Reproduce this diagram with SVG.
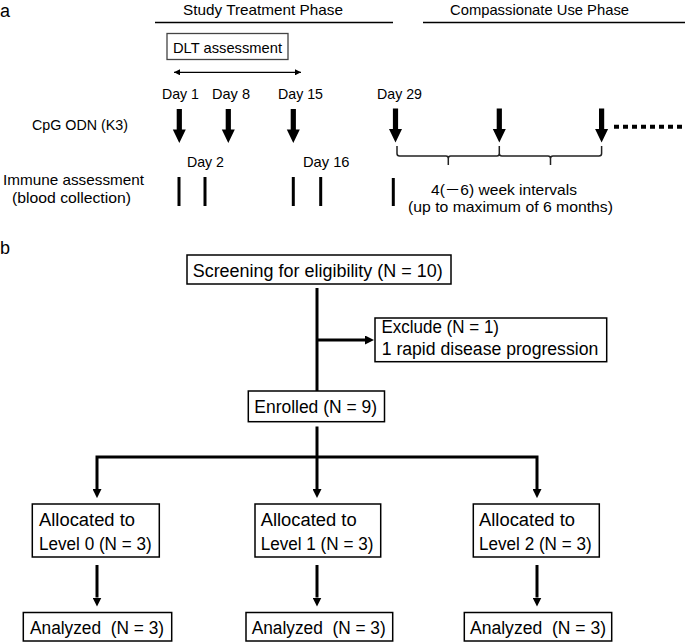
<svg xmlns="http://www.w3.org/2000/svg" width="685" height="642" viewBox="0 0 685 642">
<style>
text{font-family:"Liberation Sans",Arial,"Noto Sans CJK JP",sans-serif;fill:#000}
.ta{font-size:15px}
.tb{font-size:18px}
.lab{font-size:18px}
.box{fill:#fff;stroke:#000;stroke-width:1.5}
.dlt{fill:#fff;stroke:#444;stroke-width:1.3}
.con{fill:none;stroke:#000;stroke-width:3}
.tick{stroke:#000;stroke-width:3}
.rule{stroke:#000;stroke-width:1.5}
.brace{fill:none;stroke:#222;stroke-width:1.5}
</style>
<defs>
<marker id="ah" viewBox="0 0 10 10" refX="0" refY="5" markerWidth="9" markerHeight="9" markerUnits="userSpaceOnUse" orient="auto"><path d="M0,0 L10,5 L0,10 z" fill="#000"/></marker>
<marker id="sa" viewBox="0 0 10 10" refX="10" refY="5" markerWidth="7" markerHeight="6" markerUnits="userSpaceOnUse" orient="auto-start-reverse"><path d="M0,0 L10,5 L0,10 z" fill="#000"/></marker>
<path id="big" d="M-2.6,0 H2.6 V20.5 H6.5 L0,34 L-6.5,20.5 H-2.6 Z" fill="#000"/>
</defs>

<g id="panel-a">
<text class="lab" x="0" y="17">a</text>
<text class="ta" x="183" y="14.5" textLength="160" lengthAdjust="spacingAndGlyphs">Study Treatment Phase</text>
<line class="rule" x1="155" y1="22.5" x2="393" y2="22.5"/>
<text class="ta" x="450" y="14.5" textLength="179" lengthAdjust="spacingAndGlyphs">Compassionate Use Phase</text>
<line class="rule" x1="423" y1="22.5" x2="685" y2="22.5"/>

<g id="dlt">
<rect class="dlt" x="167" y="33.5" width="121" height="26"/>
<text class="ta" x="173" y="52.5" textLength="109" lengthAdjust="spacingAndGlyphs">DLT assessment</text>
</g>
<line x1="174" y1="72.3" x2="301" y2="72.3" stroke="#000" stroke-width="1.3" marker-start="url(#sa)" marker-end="url(#sa)"/>

<text class="ta" x="162" y="99" textLength="37" lengthAdjust="spacingAndGlyphs">Day 1</text>
<text class="ta" x="212" y="99" textLength="38" lengthAdjust="spacingAndGlyphs">Day 8</text>
<text class="ta" x="278" y="99" textLength="45" lengthAdjust="spacingAndGlyphs">Day 15</text>
<text class="ta" x="377" y="99" textLength="45" lengthAdjust="spacingAndGlyphs">Day 29</text>

<text class="ta" x="32" y="129.5" textLength="96" lengthAdjust="spacingAndGlyphs">CpG ODN (K3)</text>
<use href="#big" x="179.3" y="109"/>
<use href="#big" x="228.3" y="109"/>
<use href="#big" x="293.3" y="109"/>
<use href="#big" x="395.5" y="108.5"/>
<use href="#big" x="499.3" y="108.5"/>
<use href="#big" x="601.6" y="108.5"/>
<line x1="614" y1="126.7" x2="685" y2="126.7" stroke="#000" stroke-width="4" stroke-dasharray="5 4"/>

<path class="brace" d="M397,146 V153.5 Q397,156 399.5,156 H446 Q448.3,156 448.3,158.5 V165 M448.3,158.5 Q448.3,156 450.6,156 H497 Q499.3,156 499.3,153.5 V146 M499.3,153.5 Q499.3,156 501.8,156 H548 Q550.5,156 550.5,158.5 V165 M550.5,158.5 Q550.5,156 553,156 H599 Q601.6,156 601.6,153.5 V146"/>

<text class="ta" x="187" y="167" textLength="37" lengthAdjust="spacingAndGlyphs">Day 2</text>
<text class="ta" x="303" y="167" textLength="46.5" lengthAdjust="spacingAndGlyphs">Day 16</text>
<text class="ta" x="3" y="185" textLength="141" lengthAdjust="spacingAndGlyphs">Immune assessment</text>
<text class="ta" x="12" y="203" textLength="119" lengthAdjust="spacingAndGlyphs">(blood collection)</text>
<line class="tick" x1="179" y1="177" x2="179" y2="206"/>
<line class="tick" x1="205" y1="177" x2="205" y2="206"/>
<line class="tick" x1="293.3" y1="177" x2="293.3" y2="206"/>
<line class="tick" x1="320.7" y1="177" x2="320.7" y2="206"/>
<line class="tick" x1="393.3" y1="178" x2="393.3" y2="206"/>
<text class="ta" x="431" y="195" textLength="146" lengthAdjust="spacingAndGlyphs">4(－6) week intervals</text>
<text class="ta" x="408" y="212" textLength="205" lengthAdjust="spacingAndGlyphs">(up to maximum of 6 months)</text>
</g>

<text class="lab" x="0" y="254">b</text>

<g id="connectors">
<line class="con" x1="317" y1="288" x2="317" y2="391"/>
<line class="con" x1="317" y1="340" x2="365" y2="340" marker-end="url(#ah)"/>
<line class="con" x1="317" y1="426.5" x2="317" y2="489" marker-end="url(#ah)"/>
<polyline class="con" points="97,489 97,457 537,457 537,489"/>
<line x1="97" y1="489" x2="97" y2="489.1" class="con" marker-end="url(#ah)"/>
<line x1="537" y1="489" x2="537" y2="489.1" class="con" marker-end="url(#ah)"/>
<line class="con" x1="97" y1="565" x2="97" y2="597.5" marker-end="url(#ah)"/>
<line class="con" x1="317" y1="565" x2="317" y2="597.5" marker-end="url(#ah)"/>
<line class="con" x1="537" y1="565" x2="537" y2="597.5" marker-end="url(#ah)"/>
</g>

<g id="screening">
<rect class="box" x="187" y="255" width="264" height="29"/>
<text class="tb" x="192.7" y="276.5" textLength="250" lengthAdjust="spacingAndGlyphs">Screening for eligibility (N = 10)</text>
</g>
<g id="exclude">
<rect class="box" x="375" y="318" width="231.7" height="43.7"/>
<text class="tb" x="381.5" y="333" textLength="117.5" lengthAdjust="spacingAndGlyphs">Exclude (N = 1)</text>
<text class="tb" x="381.7" y="354.5" textLength="216.6" lengthAdjust="spacingAndGlyphs">1 rapid disease progression</text>
</g>
<g id="enrolled">
<rect class="box" x="248.3" y="391" width="136.2" height="30.7"/>
<text class="tb" x="254.3" y="413" textLength="122.7" lengthAdjust="spacingAndGlyphs">Enrolled (N = 9)</text>
</g>
<g id="level0">
<rect class="box" x="32.3" y="504" width="127" height="53"/>
<text class="tb" x="39" y="526" textLength="96" lengthAdjust="spacingAndGlyphs">Allocated to</text>
<text class="tb" x="39" y="550" textLength="112.7" lengthAdjust="spacingAndGlyphs">Level 0 (N = 3)</text>
</g>
<g id="level1">
<rect class="box" x="255" y="504" width="125.7" height="53"/>
<text class="tb" x="260.7" y="526" textLength="96" lengthAdjust="spacingAndGlyphs">Allocated to</text>
<text class="tb" x="260.7" y="550" textLength="112.7" lengthAdjust="spacingAndGlyphs">Level 1 (N = 3)</text>
</g>
<g id="level2">
<rect class="box" x="473.3" y="504" width="126" height="53"/>
<text class="tb" x="479" y="526" textLength="96" lengthAdjust="spacingAndGlyphs">Allocated to</text>
<text class="tb" x="479" y="550" textLength="112.7" lengthAdjust="spacingAndGlyphs">Level 2 (N = 3)</text>
</g>
<g id="analyzed0">
<rect class="box" x="23.3" y="612.5" width="148.4" height="28.5"/>
<text class="tb" x="30" y="634" xml:space="preserve" textLength="134" lengthAdjust="spacingAndGlyphs">Analyzed  (N = 3)</text>
</g>
<g id="analyzed1">
<rect class="box" x="246" y="612.5" width="146.7" height="28.5"/>
<text class="tb" x="251.7" y="634" xml:space="preserve" textLength="134" lengthAdjust="spacingAndGlyphs">Analyzed  (N = 3)</text>
</g>
<g id="analyzed2">
<rect class="box" x="464.3" y="612.5" width="147.4" height="28.5"/>
<text class="tb" x="470" y="634" xml:space="preserve" textLength="136" lengthAdjust="spacingAndGlyphs">Analyzed  (N = 3)</text>
</g>
</svg>
